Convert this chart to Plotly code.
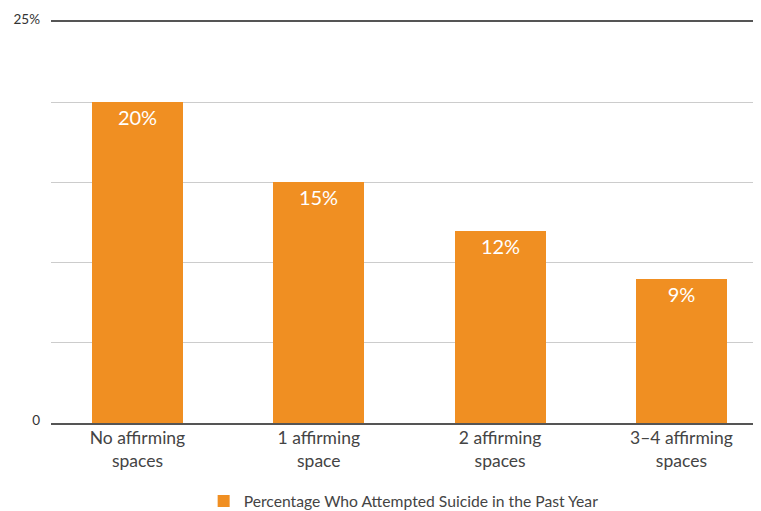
import plotly.graph_objects as go

categories = ["No affirming<br>spaces", "1 affirming<br>space", "2 affirming<br>spaces", "3–4 affirming<br>spaces"]
values = [20, 15, 12, 9]
value_labels = ["20%", "15%", "12%", "9%"]
series_name = "Percentage Who Attempted Suicide in the Past Year"
y_tick_vals = [0, 25]
y_tick_text = ["0", "25%"]

orange = "#F08F22"

fig = go.Figure()
fig.add_trace(go.Bar(
    x=list(range(len(categories))),
    y=values,
    name=series_name,
    marker=dict(color=orange, line=dict(width=0)),
    width=0.502,
    text=value_labels,
    textposition="inside",
    insidetextanchor="end",
    textfont=dict(family="Lato", size=20, color="white"),
    hoverinfo="skip",
))

fig.update_layout(
    width=753, height=511,
    margin=dict(l=43, r=0, t=14, b=96),
    paper_bgcolor="white",
    plot_bgcolor="white",
    font=dict(family="Lato", color="#333333"),
    bargap=0,
    showlegend=True,
    legend=dict(
        orientation="h",
        x=0.215, xanchor="left",
        y=-0.195, yanchor="middle",
        font=dict(family="Lato", size=15.7, color="#444444"),
    ),
    xaxis=dict(
        range=[-0.477, 3.439],
        tickvals=list(range(len(categories))),
        ticktext=categories,
        tickfont=dict(family="Lato", size=17.5, color="#444444"),
        ticklabelstandoff=-2,
        showgrid=False,
        showline=True,
        mirror=True,
        linecolor="#555555",
        linewidth=2,
        zeroline=False,
        ticks="",
        automargin=False,
        fixedrange=True,
    ),
    yaxis=dict(
        range=[0, 25],
        tickvals=y_tick_vals,
        ticktext=y_tick_text,
        tickfont=dict(family="Lato", size=13.5, color="#333333"),
        showgrid=False,
        zeroline=False,
        showline=False,
        ticks="",
        ticklabelstandoff=10,
        ticklabelshift=-3,
        minor=dict(dtick=5, showgrid=True, gridcolor="#CCCCCC", gridwidth=1),
        automargin=False,
        fixedrange=True,
    ),
)

fig.write_html("out.html")
